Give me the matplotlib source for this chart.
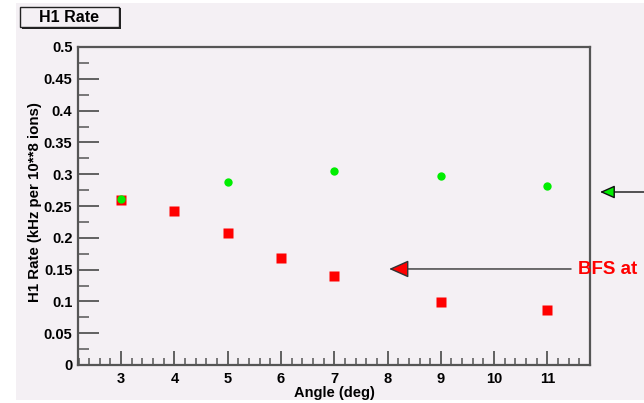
import matplotlib
matplotlib.use("Agg")
import matplotlib.pyplot as plt
from matplotlib.patches import Rectangle
from matplotlib.ticker import MultipleLocator

# data
red_angle = [3, 4, 5, 6, 7, 9, 11]
red_rate = [0.260, 0.242, 0.208, 0.168, 0.140, 0.099, 0.086]
green_angle = [3, 5, 7, 9, 11]
green_rate = [0.261, 0.288, 0.305, 0.297, 0.281]
y_ticks = [0, 0.05, 0.1, 0.15, 0.2, 0.25, 0.3, 0.35, 0.4, 0.45, 0.5]
y_labels = ["0", "0.05", "0.1", "0.15", "0.2", "0.25", "0.3", "0.35", "0.4", "0.45", "0.5"]

bg = "#f4f0f4"
axc = "#555555"
plt.rcParams["font.family"] = ["Liberation Sans", "DejaVu Sans"]
plt.rcParams["font.weight"] = "bold"

W, H = 644, 403
fig = plt.figure(figsize=(W / 100, H / 100), dpi=100, facecolor="white")
# pad panel
fig.patches.append(Rectangle((16 / W, 3 / H), 1, (400 - 3) / H, transform=fig.transFigure,
                             facecolor=bg, edgecolor="none", zorder=-10))

ax = fig.add_axes([78 / W, (H - 365) / H, (590 - 78) / W, (365 - 47) / H])
ax.set_facecolor(bg)
ax.set_xlim(2.19, 11.8)
ax.set_ylim(0, 0.5)

ax.plot(red_angle, red_rate, "s", color="#ff0000", ms=7, mec="none", zorder=3)
ax.plot(green_angle, green_rate, "o", color="#00ee00", ms=6, mec="none", zorder=4)

for s in ax.spines.values():
    s.set_color(axc)
    s.set_linewidth(1.6)

ax.xaxis.set_major_locator(MultipleLocator(1))
ax.xaxis.set_minor_locator(MultipleLocator(0.2))
ax.yaxis.set_minor_locator(MultipleLocator(0.025))
ax.tick_params(axis="x", which="major", direction="in", length=10, width=1.3, color=axc,
               labelsize=10.5, pad=5)
ax.tick_params(axis="x", which="minor", direction="in", length=5, width=1.1, color=axc)
ax.tick_params(axis="y", which="major", direction="in", length=15, width=1.3, color=axc,
               labelsize=10.5, pad=4)
ax.tick_params(axis="y", which="minor", direction="in", length=8, width=1.1, color=axc)
ax.set_yticks(y_ticks)
ax.set_yticklabels(y_labels)
for lab in ax.get_xticklabels() + ax.get_yticklabels():
    lab.set_fontweight("bold")

fig.text(35 / W, 1 - 202 / H, "H1 Rate (kHz per 10**8 ions)", rotation=90, ha="center",
         va="center", fontsize=10.8, fontweight="bold")
fig.text(334 / W, 1 - 393 / H, "Angle (deg)", ha="center", va="center", fontsize=10.5,
         fontweight="bold")

# title box
fig.patches.append(Rectangle((22 / W, 1 - 29 / H), 99 / W, 21 / H, transform=fig.transFigure,
                             facecolor="#222222", edgecolor="none", zorder=1))
fig.patches.append(Rectangle((20 / W, 1 - 27 / H), 99 / W, 20 / H, transform=fig.transFigure,
                             facecolor=bg, edgecolor="#222222", lw=1, zorder=2))
fig.text(69 / W, 1 - 17 / H, "H1 Rate", ha="center", va="center", fontsize=11.5,
         fontweight="bold", zorder=3)

# arrows
ax.annotate("BFS at", xy=(8.03, 0.151), xytext=(578 / W, 1 - 269 / H),
            textcoords="figure fraction", xycoords="data", ha="left", va="center",
            color="#ff0000", fontsize=13.5, fontweight="bold", annotation_clip=False,
            arrowprops=dict(arrowstyle="-|>,head_length=0.9,head_width=0.4", lw=1,
                            color="#333333", fc="#ff0000", shrinkA=3, shrinkB=0))
ax.annotate("", xy=(600 / W, 1 - 192 / H), xytext=(660 / W, 1 - 192 / H),
            xycoords="figure fraction", textcoords="figure fraction", annotation_clip=False,
            arrowprops=dict(arrowstyle="-|>,head_length=0.9,head_width=0.4", lw=1,
                            color="#111111", fc="#00ee00", shrinkA=0, shrinkB=0))

fig.savefig("out.png", dpi=100, facecolor="white")
